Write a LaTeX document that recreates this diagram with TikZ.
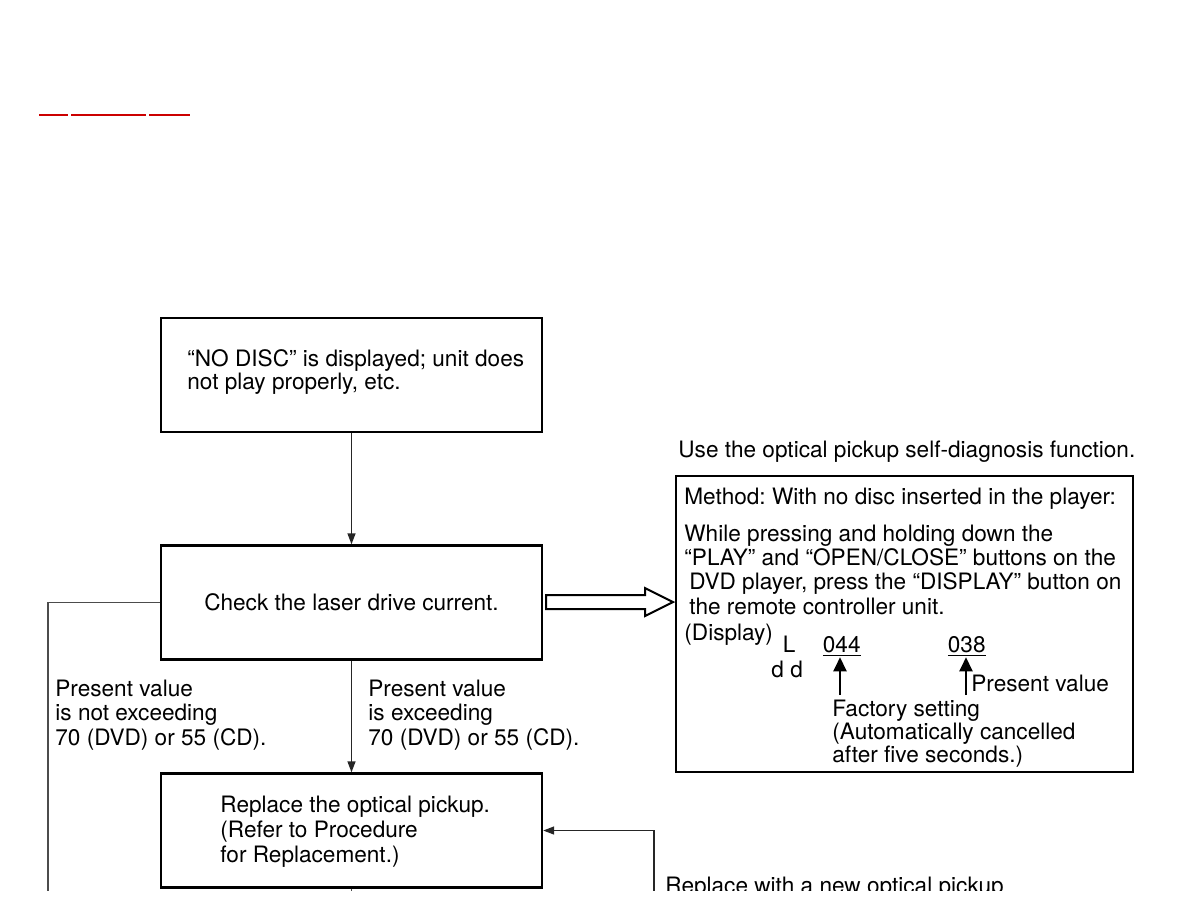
\documentclass[tikz,border=0pt]{standalone}
\usepackage{fontspec}
\setmainfont{TeX Gyre Heros}
\frenchspacing
\usetikzlibrary{arrows.meta}
\tikzset{
x=0.5pt, y=-0.5pt,
box/.style={draw, line width=1.2pt, minimum width=190.5pt, minimum height=57pt, inner sep=0pt, font=\fontsize{11.3}{12.5}\selectfont},
txt/.style={anchor=base west, inner sep=0pt, align=left, font=\fontsize{11.3}{12.5}\selectfont},
flow/.style={line width=0.7pt, black!85, -{Triangle[length=5.5pt,width=4pt]}},
plain/.style={line width=0.7pt, black!70},
ptr/.style={line width=1pt, -{Triangle[length=7pt,width=6.5pt]}},
}

\begin{document}
\begin{tikzpicture}
    \useasboundingbox (0,0) rectangle (1188,918);

    %link underline
    \draw[red!80!black, line width=0.9pt] (39,115) -- (68,115);
    \draw[red!80!black, line width=0.9pt] (71,115) -- (146,115);
    \draw[red!80!black, line width=0.9pt] (149,115) -- (190,115);

    \begin{scope}
    \clip (0,0) rectangle (1188,890);

    %left column (base = last line)
    \node[box] (start) at (351.5,375) {};
    \node[txt, font=\fontsize{11.3}{11.5}\selectfont] (startT) at (187,389.5) {“NO DISC” is displayed; unit does\\not play properly, etc.};
    \node[box] (check) at (351.5,602.5) {Check the laser drive current.};
    \node[box] (repl) at (351.5,830.5) {};
    \node[txt] (replT) at (220,862) {Replace the optical pickup.\\(Refer to Procedure\\for Replacement.)};

    \node[txt, font=\fontsize{11.3}{12.25}\selectfont] (notExc) at (55,745) {Present value\\is not exceeding\\70 (DVD) or 55 (CD).};
    \node[txt, font=\fontsize{11.3}{12.25}\selectfont] (exc) at (368,745) {Present value\\is exceeding\\70 (DVD) or 55 (CD).};

    %right column
    \node[txt] (use) at (678,457) {Use the optical pickup self-diagnosis function.};
    \node[draw, line width=1pt, minimum width=228.5pt, minimum height=148pt, inner sep=0pt] (method) at (904.5,624) {};
    \node[txt] (methT) at (684,504) {Method: With no disc inserted in the player:};
    \node[txt, font=\fontsize{11.3}{12.15}\selectfont] (press) at (684,614) {While pressing and holding down the\\“PLAY” and “OPEN/CLOSE” buttons on the\\\hspace*{2.5pt}DVD player, press the “DISPLAY” button on\\\hspace*{2.5pt}the remote controller unit.};
    \node[txt] (disp) at (684,640) {(Display)};
    \node[txt] (dL) at (782.5,652.5) {L};
    \node[txt] (dd) at (771,677.5) {d d};
    \node[txt] (fac) at (822.5,652.5) {\underline{044}};
    \node[txt] (pres) at (947.5,652.5) {\underline{038}};
    \node[txt] (presT) at (971,691) {Present value};
    \node[txt, font=\fontsize{11.3}{11.5}\selectfont] (facT) at (832,762) {Factory setting\\(Automatically cancelled\\after five seconds.)};
    \coordinate (facTail) at (840,695);
    \coordinate (presTail) at (966,695);
    \draw[ptr] (facTail) -- (facTail |- fac.south);
    \draw[ptr] (presTail) -- (presTail |- pres.south);

    %hollow arrow
    \draw[line width=1pt] (546,595) -- (645,595) -- (645,588) -- (673,602) -- (645,616) -- (645,609) -- (546,609) -- cycle;

    %loops
    \coordinate (downR) at (351.5,905);
    \coordinate (loopL) at (48,905);
    \coordinate (loopR) at (654,905);
    \node[txt] (newPU) at (665,893) {Replace with a new optical pickup};

    \draw[flow] (start) -- (check);
    \draw[flow] (check) -- (repl);
    \draw[plain] (repl) -- (downR);
    \draw[plain] (check.west) -| (loopL);
    \draw[flow] (loopR) |- (repl.east);
    \end{scope}

\end{tikzpicture}
\end{document}
